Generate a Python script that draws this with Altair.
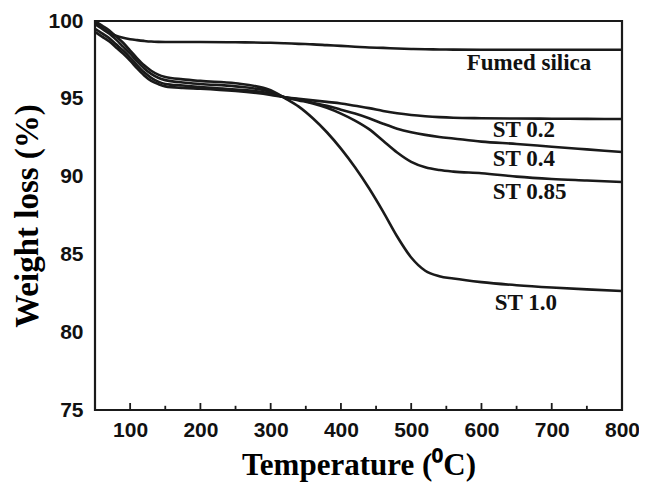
import altair as alt
import pandas as pd

temps = [50, 60, 70, 80, 90, 100, 110, 120, 130, 140, 150, 175, 200, 250, 300, 320,
         340, 360, 380, 400, 420, 440, 460, 480, 500, 520, 540, 560, 600, 650, 700, 750, 800]

fumed = [100.0, 99.55, 99.25, 99.05, 98.92, 98.83, 98.77, 98.72, 98.68, 98.66, 98.65, 98.65, 98.65, 98.63, 98.6, 98.57,
         98.53, 98.5, 98.45, 98.4, 98.35, 98.3, 98.27, 98.23, 98.2, 98.18, 98.17, 98.16, 98.15, 98.15, 98.15, 98.15, 98.15]

st02 = [99.3, 99.0, 98.7, 98.3, 97.9, 97.45, 96.95, 96.5, 96.15, 95.95, 95.8, 95.7, 95.65, 95.5, 95.25, 95.1,
        95.0, 94.9, 94.8, 94.7, 94.55, 94.4, 94.22, 94.07, 93.96, 93.88, 93.82, 93.78, 93.75, 93.73, 93.72, 93.71, 93.7]

st04 = [99.5, 99.2, 98.9, 98.5, 98.1, 97.65, 97.15, 96.7, 96.35, 96.1, 95.95, 95.85, 95.75, 95.6, 95.35, 95.1,
        94.95, 94.75, 94.55, 94.3, 94.05, 93.75, 93.4, 93.08, 92.85, 92.68, 92.55, 92.45, 92.25, 92.1, 91.92, 91.75, 91.58]

st085 = [99.8, 99.5, 99.2, 98.8, 98.35, 97.9, 97.4, 96.95, 96.6, 96.35, 96.2, 96.05, 95.95, 95.8, 95.45, 95.1,
         94.9, 94.7, 94.42, 94.05, 93.6, 93.05, 92.3, 91.55, 90.95, 90.6, 90.42, 90.32, 90.22, 90.0, 89.85, 89.75, 89.65]

st10 = [100.0, 99.7, 99.4, 99.0, 98.6, 98.1, 97.6, 97.15, 96.8, 96.55, 96.4, 96.25, 96.15, 96.0, 95.55, 95.05,
        94.5, 93.75, 92.85, 91.8, 90.6, 89.25, 87.75, 86.15, 84.8, 83.95, 83.6, 83.45, 83.22, 83.02, 82.87, 82.75, 82.65]

series_names = ["Fumed silica", "ST 0.2", "ST 0.4", "ST 0.85", "ST 1.0"]
series_values = [fumed, st02, st04, st085, st10]

label_text = ["Fumed silica", "ST 0.2", "ST 0.4", "ST 0.85", "ST 1.0"]
label_x = [579, 616, 616, 616, 619]
label_y = [96.85, 92.56, 90.7, 88.56, 81.43]

major_ticks = [100, 200, 300, 400, 500, 600, 700]
minor_ticks = [150, 250, 350, 450, 550, 650, 750]

rows = []
for name, vals in zip(series_names, series_values):
    for t, v in zip(temps, vals):
        rows.append({"series": name, "T": t, "W": v})
df = pd.DataFrame(rows)

labels_df = pd.DataFrame({"text": label_text, "T": label_x, "W": label_y})
ticks_df = pd.DataFrame(
    [{"T": t, "y0": 75, "y1": 75.45} for t in major_ticks]
    + [{"T": t, "y0": 75, "y1": 75.27} for t in minor_ticks]
)

xscale = alt.Scale(domain=[50, 800], nice=False, zero=False)
yscale = alt.Scale(domain=[75, 100], nice=False, zero=False)

x_axis = alt.Axis(
    values=[100, 200, 300, 400, 500, 600, 700, 800],
    title="Temperature (\u2070C)",
    titleFont="Liberation Serif", titleFontSize=31, titleFontWeight="bold", titleColor="black",
    titlePadding=10,
    labelFont="Liberation Sans", labelFontSize=21, labelFontWeight="bold", labelColor="#111",
    labelPadding=9, ticks=False, domain=False, grid=False, labelFlush=False,
)
y_axis = alt.Axis(
    values=[75, 80, 85, 90, 95, 100],
    title="Weight loss (%)",
    titleFont="Liberation Serif", titleFontSize=33, titleFontWeight="bold", titleColor="black",
    titlePadding=3,
    labelFont="Liberation Sans", labelFontSize=21, labelFontWeight="bold", labelColor="#111",
    labelPadding=12, ticks=False, domain=False, grid=False, labelFlush=False,
)

lines = alt.Chart(df).mark_line(color="#1a1a1a", strokeWidth=2.6, interpolate="monotone").encode(
    x=alt.X("T:Q", scale=xscale, axis=x_axis),
    y=alt.Y("W:Q", scale=yscale, axis=y_axis),
    detail="series:N",
)

tick_marks = alt.Chart(ticks_df).mark_rule(color="#1a1a1a", strokeWidth=1.8).encode(
    x=alt.X("T:Q", scale=xscale),
    y=alt.Y("y0:Q", scale=yscale),
    y2="y1:Q",
)

texts = alt.Chart(labels_df).mark_text(
    align="left", baseline="alphabetic", font="Liberation Serif", fontSize=23,
    fontWeight="bold", color="#111",
).encode(
    x=alt.X("T:Q", scale=xscale),
    y=alt.Y("W:Q", scale=yscale),
    text="text:N",
)

chart = alt.layer(lines, tick_marks, texts).properties(
    width=527, height=389,
    autosize=alt.AutoSizeParams(type="none"),
    padding={"left": 87, "top": 13, "right": 17, "bottom": 73},
    background="white",
).configure_view(stroke="#1a1a1a", strokeWidth=2.2)

chart.save("out.html", embed_options={"renderer": "svg", "actions": False})
